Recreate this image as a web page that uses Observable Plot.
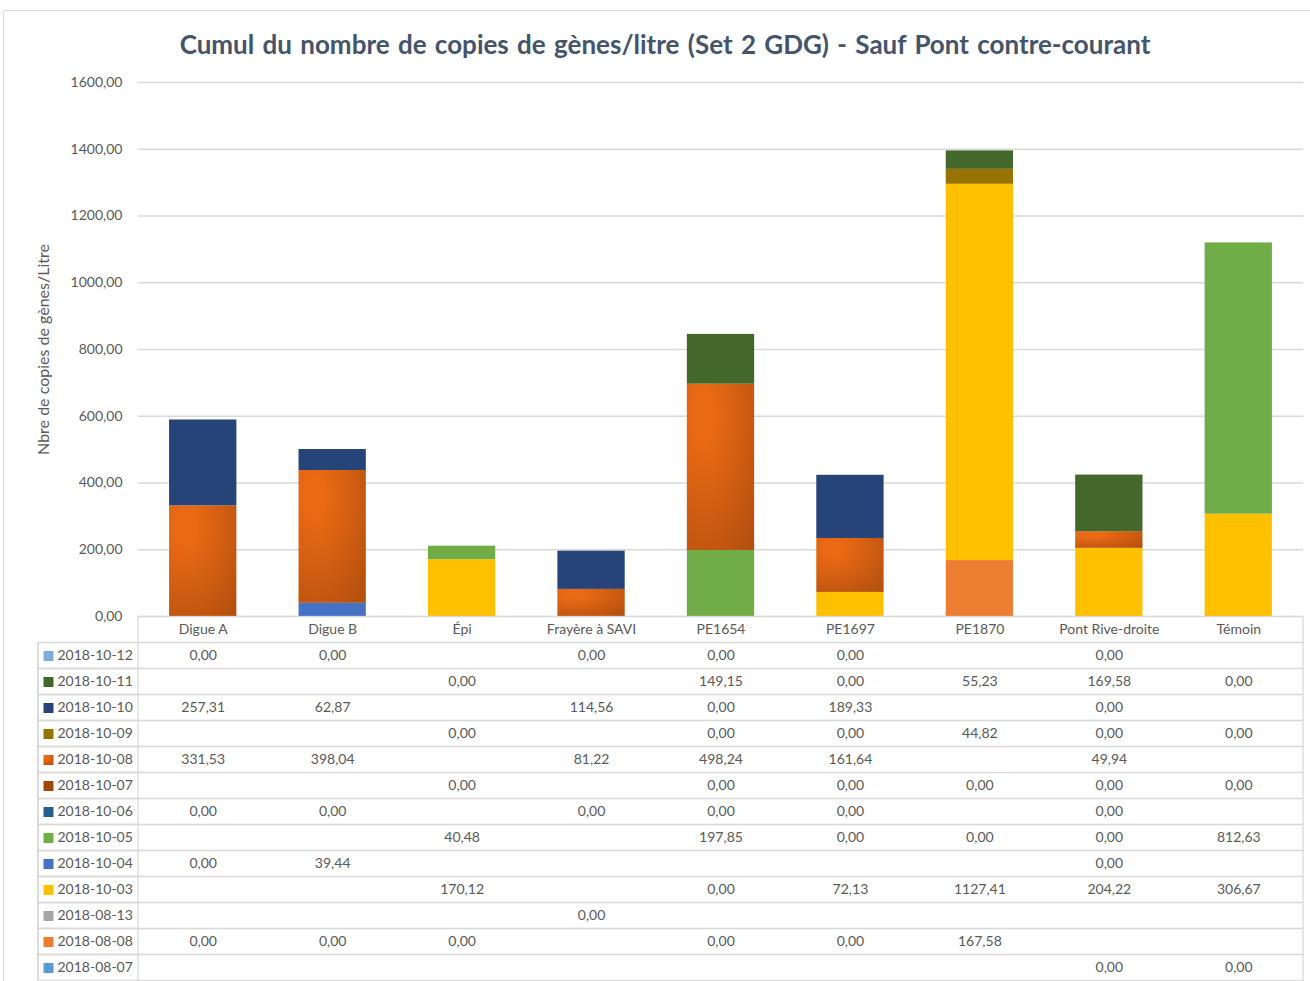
<!DOCTYPE html>
<html>
<head>
<meta charset="utf-8">
<script src="https://cdn.jsdelivr.net/npm/d3@7"></script>
<script src="https://cdn.jsdelivr.net/npm/@observablehq/plot@0.6"></script>
<style>
  html, body { margin: 0; padding: 0; background: #fff; }
  body { width: 1310px; height: 981px; overflow: hidden; position: relative; font-family: Lato, "Open Sans", sans-serif; }
  #frame { position: absolute; left: 3px; top: 10px; width: 1330px; height: 1000px; border-left: 1px solid #d9d9d9; border-top: 1px solid #d9d9d9; box-sizing: border-box; }
  #title { position: absolute; left: 0; top: 29px; width: 1330px; text-align: center; font: bold 26px Lato, sans-serif; line-height: 30px; word-spacing: 2px; color: #44546A; }
  #chart { position: absolute; left: 0; top: 60px; }
  #table { position: absolute; left: 0; top: 616px; }
  svg { overflow: visible; }
</style>
</head>
<body>
<div id="frame"></div>
<div id="title">Cumul du nombre de copies de gènes/litre (Set 2 GDG) - Sauf Pont contre-courant</div>
<div id="chart"></div>
<div id="table"></div>
<script>
// ---- Data ----
const categories = ["Digue A", "Digue B", "Épi", "Frayère à SAVI", "PE1654", "PE1697", "PE1870", "Pont Rive-droite", "Témoin"];

// series in table order (top row first)
const seriesDates = ["2018-10-12", "2018-10-11", "2018-10-10", "2018-10-09", "2018-10-08", "2018-10-07", "2018-10-06", "2018-10-05", "2018-10-04", "2018-10-03", "2018-08-13", "2018-08-08", "2018-08-07"];
const seriesColors = ["#7DAFDD", "#43682B", "#264478", "#997300", "url(#gradOrange)", "#9E480E", "#255E91", "#70AD47", "#4472C4", "#FFC000", "#A5A5A5", "#ED7D31", "#5B9BD5"];

// values per series, one per category (null = no value)
const v20181012 = [0, 0, null, 0, 0, 0, null, 0, null];
const v20181011 = [null, null, 0, null, 149.15, 0, 55.23, 169.58, 0];
const v20181010 = [257.31, 62.87, null, 114.56, 0, 189.33, null, 0, null];
const v20181009 = [null, null, 0, null, 0, 0, 44.82, 0, 0];
const v20181008 = [331.53, 398.04, null, 81.22, 498.24, 161.64, null, 49.94, null];
const v20181007 = [null, null, 0, null, 0, 0, 0, 0, 0];
const v20181006 = [0, 0, null, 0, 0, 0, null, 0, null];
const v20181005 = [null, null, 40.48, null, 197.85, 0, 0, 0, 812.63];
const v20181004 = [0, 39.44, null, null, null, null, null, 0, null];
const v20181003 = [null, null, 170.12, null, 0, 72.13, 1127.41, 204.22, 306.67];
const v20180813 = [null, null, null, 0, null, null, null, null, null];
const v20180808 = [0, 0, 0, null, 0, 0, 167.58, null, null];
const v20180807 = [null, null, null, null, null, null, null, 0, 0];

const seriesValues = [v20181012, v20181011, v20181010, v20181009, v20181008, v20181007, v20181006, v20181005, v20181004, v20181003, v20180813, v20180808, v20180807];

const yTicks = [0, 200, 400, 600, 800, 1000, 1200, 1400, 1600];
const yLabel = "Nbre de copies de gènes/Litre";

// ---- Build tables ----
const fmt = v => v.toFixed(2).replace(".", ",");
const stackOrder = seriesDates.slice().reverse(); // bottom to top
const rows = [];
stackOrder.forEach(s => {
  const vals = seriesValues[seriesDates.indexOf(s)];
  categories.forEach((c, j) => {
    if (vals[j] !== null) rows.push({series: s, category: c, value: vals[j]});
  });
});

const textColor = "#595959";
const gridColor = "#D9D9D9";

const defs = () => {
  const d = d3.create("svg:defs");
  const g = d.append("radialGradient").attr("id", "gradOrange")
    .attr("cx", 0.25).attr("cy", 0.2).attr("r", 1.1);
  g.append("stop").attr("offset", 0).attr("stop-color", "#EC6A14");
  g.append("stop").attr("offset", 0.15).attr("stop-color", "#E96914");
  g.append("stop").attr("offset", 1).attr("stop-color", "#B04E0F");
  return d.node();
};

// ---- Chart ----
const chart = Plot.plot({
  width: 1310,
  height: 557,
  marginTop: 22,
  marginBottom: 1,
  marginLeft: 138,
  marginRight: 7,
  style: {fontFamily: "Lato, 'Open Sans', sans-serif", fontSize: "14px", color: textColor, background: "transparent"},
  x: {domain: categories, paddingInner: 0.48, paddingOuter: 0.24, round: false, axis: null},
  y: {domain: [0, 1600], axis: null},
  color: {domain: seriesDates, range: seriesColors},
  marks: [
    defs,
    Plot.gridY(yTicks, {stroke: gridColor, strokeOpacity: 1, strokeWidth: 1.3}),
    Plot.barY(rows, {x: "category", y: "value", fill: "series", order: stackOrder}),
    Plot.axisY(yTicks, {tickFormat: fmt, tickSize: 0, tickPadding: 16, fontSize: 14, fill: textColor, label: null}),
    Plot.text([yLabel], {text: d => d, frameAnchor: "left", textAnchor: "middle", dx: -95, rotate: -90, fontSize: 16, fill: textColor})
  ]
});
document.getElementById("chart").appendChild(chart);

// ---- Data table ----
const HEADER = "__header", LABEL = "__label";
const bw = (1303 - 138) / categories.length;
const xStart = 138 - bw;
const table = Plot.plot({
  width: 1310,
  height: 366,
  marginTop: 0,
  marginBottom: 2,
  marginLeft: 38,
  marginRight: 7,
  style: {fontFamily: "Lato, 'Open Sans', sans-serif", fontSize: "14px", color: textColor, background: "transparent"},
  x: {type: "band", domain: [LABEL, ...categories], range: [xStart, 1303], padding: 0, round: false, axis: null},
  y: {type: "band", domain: [HEADER, ...seriesDates], range: [0.5, 364.5], padding: 0, round: false, axis: null},
  color: {domain: seriesDates, range: seriesColors},
  marks: [
    Plot.cell([HEADER], {y: d => d, insetLeft: 100, stroke: gridColor, strokeWidth: 1.3, fill: "none"}),
    Plot.cell(seriesDates, {y: d => d, stroke: gridColor, strokeWidth: 1.3, fill: "none"}),
    Plot.cell(seriesDates, {x: () => LABEL, y: d => d, insetLeft: 38 - xStart, stroke: gridColor, strokeWidth: 1.3, fill: "none"}),
    Plot.text(categories, {x: d => d, y: () => HEADER, text: d => d, fill: textColor, fontSize: 14}),
    Plot.text(rows, {x: "category", y: "series", text: d => fmt(d.value), fill: textColor, fontSize: 14}),
    Plot.dot(seriesDates, {y: d => d, fill: d => d, symbol: "square", r: 5.64, frameAnchor: "left", dx: 10}),
    Plot.text(seriesDates, {y: d => d, text: d => d, frameAnchor: "left", dx: 19, textAnchor: "start", fill: textColor, fontSize: 14})
  ]
});
document.getElementById("table").appendChild(table);
</script>
</body>
</html>
